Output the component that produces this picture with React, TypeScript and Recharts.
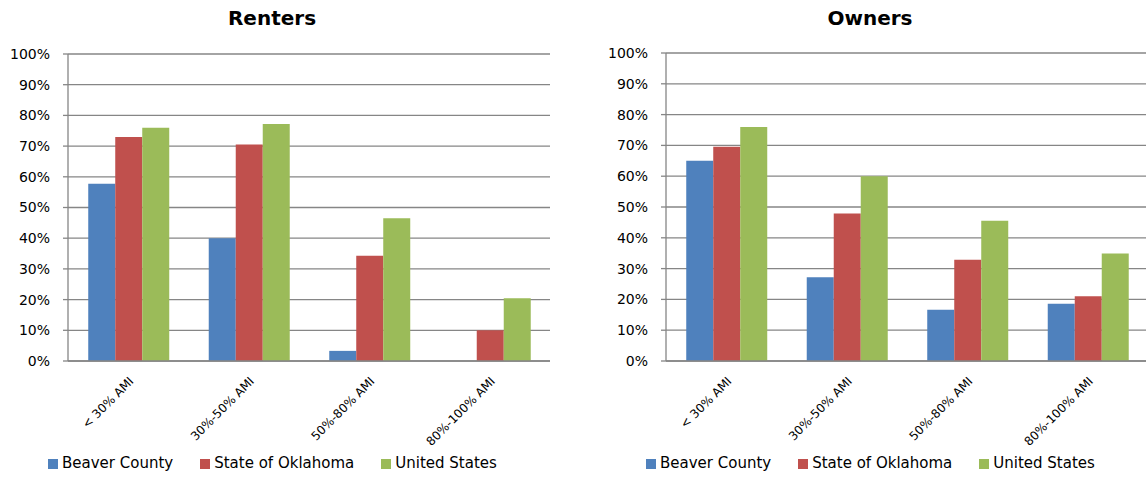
import React from "react";
import {
  Bar,
  BarChart,
  CartesianGrid,
  Legend,
  XAxis,
  YAxis,
} from "recharts";

const categories = ["< 30% AMI", "30%-50% AMI", "50%-80% AMI", "80%-100% AMI"];
const seriesNames = ["Beaver County", "State of Oklahoma", "United States"];
const seriesColors = ["#4F81BD", "#C0504D", "#9BBB59"];

// percent of households
const renterBeaver = [57.7, 40.0, 3.3, 0];
const renterOklahoma = [73.0, 70.5, 34.3, 10.0];
const renterUS = [76.0, 77.2, 46.5, 20.4];

const ownerBeaver = [65.0, 27.2, 16.6, 18.6];
const ownerOklahoma = [69.6, 47.9, 32.9, 21.0];
const ownerUS = [76.0, 60.0, 45.5, 34.9];

const yTicks = [0, 10, 20, 30, 40, 50, 60, 70, 80, 90, 100];

const GRID = "#868686";
const FONT = "'DejaVu Sans', sans-serif";

function buildRows(a: number[], b: number[], c: number[]) {
  return categories.map((name, i) => ({ name, s0: a[i], s1: b[i], s2: c[i] }));
}

const renterRows = buildRows(renterBeaver, renterOklahoma, renterUS);
const ownerRows = buildRows(ownerBeaver, ownerOklahoma, ownerUS);

function Panel({
  title,
  rows,
  left,
  top,
}: {
  title: string;
  rows: ReturnType<typeof buildRows>;
  left: number;
  top: number;
}) {
  return (
    <div style={{ position: "absolute", left, top: 0, width: 560, height: 478 }}>
      <div
        style={{
          position: "absolute",
          left: 0,
          width: 544,
          top: 6,
          textAlign: "center",
          fontWeight: "bold",
          fontSize: 20,
          color: "#000",
        }}
      >
        {title}
      </div>
      <BarChart
        width={560}
        height={478}
        data={rows}
        margin={{ top, right: 10, bottom: 0, left: 0 }}
        barGap={0}
        barCategoryGap="16.8%"
      >
        <CartesianGrid vertical={false} stroke={GRID} strokeWidth={1.3} />
        <XAxis
          dataKey="name"
          interval={0}
          height={80}
          axisLine={{ stroke: GRID, strokeWidth: 1.3 }}
          tickLine={false}
          angle={-45}
          textAnchor="end"
          tickMargin={9}
          tick={{ fill: "#000", fontSize: 12 }}
        />
        <YAxis
          width={68}
          domain={[0, 100]}
          ticks={yTicks}
          interval={0}
          tickFormatter={(v: number) => `${v}%`}
          axisLine={{ stroke: GRID, strokeWidth: 1.3 }}
          tickLine={{ stroke: GRID, strokeWidth: 1.3 }}
          tickSize={5}
          tickMargin={13}
          tick={{ fill: "#000", fontSize: 14 }}
        />
        <Legend
          height={37}
          align="left"
          verticalAlign="bottom"
          iconType="square"
          iconSize={10}
          wrapperStyle={{ left: 48, top: 453, width: "auto" }}
          formatter={(value: string) => (
            <span style={{ color: "#000", fontSize: 15, marginRight: 17 }}>{value}</span>
          )}
        />
        {seriesNames.map((n, i) => (
          <Bar
            key={n}
            dataKey={`s${i}`}
            name={n}
            fill={seriesColors[i]}
            isAnimationActive={false}
          />
        ))}
      </BarChart>
    </div>
  );
}

export default function App() {
  return (
    <div
      style={{
        position: "absolute",
        left: 0,
        top: 0,
        width: 1146,
        height: 478,
        overflow: "hidden",
        background: "#fff",
        fontFamily: FONT,
      }}
    >
      <Panel title="Renters" rows={renterRows} left={0} top={54} />
      <Panel title="Owners" rows={ownerRows} left={598} top={53} />
    </div>
  );
}
